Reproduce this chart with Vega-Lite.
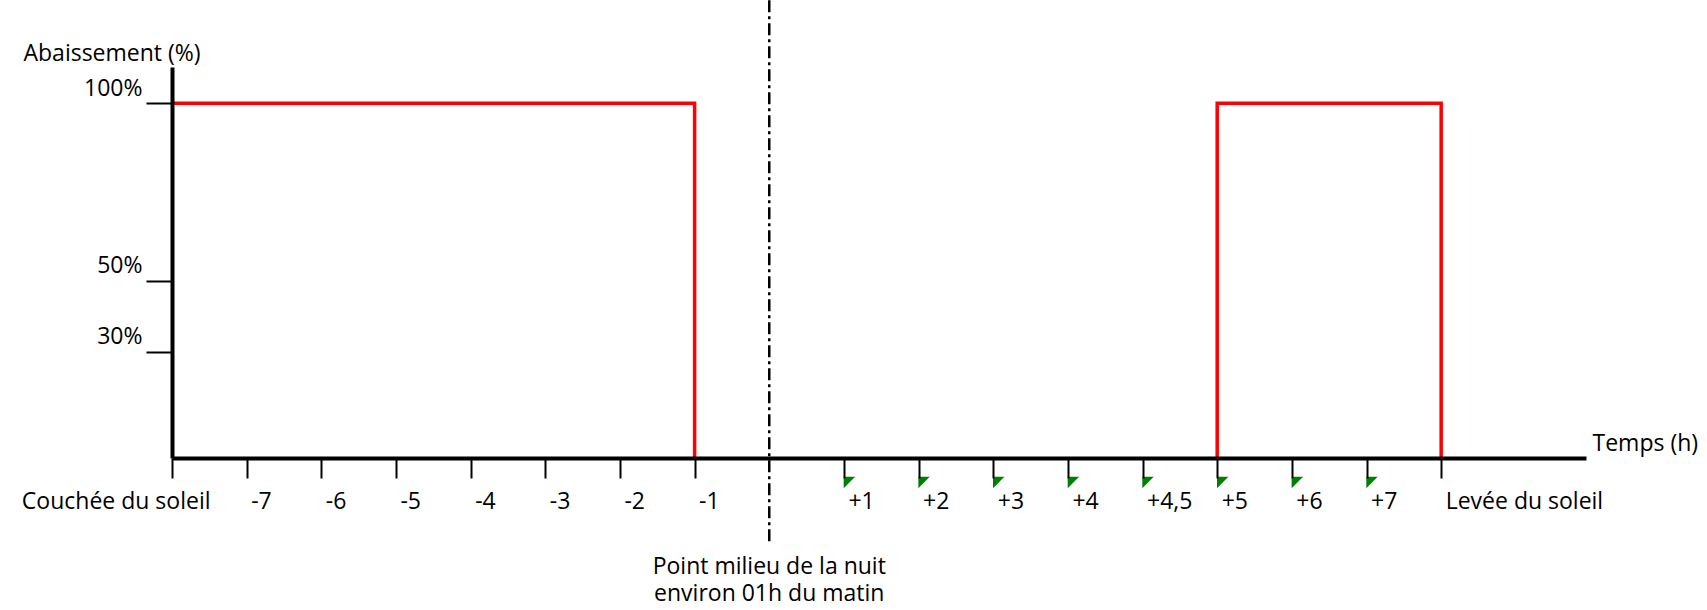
{
  "$schema": "https://vega.github.io/schema/vega-lite/v6.json",
  "width": 1414,
  "height": 391,
  "autosize": {"type": "none"},
  "padding": {"left": 172, "top": 67, "right": 121, "bottom": 152},
  "background": "white",
  "config": {"view": {"stroke": null}, "font": "Open Sans"},
  "datasets": {
    "profile": [
      {"seg": "soir", "slot": 0, "temps": "Couchée du soleil", "pct": 100, "ord": 1},
      {"seg": "soir", "slot": 7, "temps": "-1", "pct": 100, "ord": 2},
      {"seg": "soir", "slot": 7, "temps": "-1", "pct": 0, "ord": 3},
      {"seg": "matin", "slot": 14, "temps": "+5", "pct": 0, "ord": 1},
      {"seg": "matin", "slot": 14, "temps": "+5", "pct": 100, "ord": 2},
      {"seg": "matin", "slot": 17, "temps": "Levée du soleil", "pct": 100, "ord": 3},
      {"seg": "matin", "slot": 17, "temps": "Levée du soleil", "pct": 0, "ord": 4}
    ],
    "midpoint": [
      {"slot": 8, "note": ["Point milieu de la nuit", "environ 01h du matin"]}
    ],
    "alertes": [
      {"slot": 9, "temps": "+1"},
      {"slot": 10, "temps": "+2"},
      {"slot": 11, "temps": "+3"},
      {"slot": 12, "temps": "+4"},
      {"slot": 13, "temps": "+4,5"},
      {"slot": 14, "temps": "+5"},
      {"slot": 15, "temps": "+6"},
      {"slot": 16, "temps": "+7"}
    ]
  },
  "layer": [
    {
      "data": {"name": "profile"},
      "mark": {"type": "line", "color": "#FF0000", "strokeWidth": 3.5, "strokeJoin": "miter", "strokeCap": "butt"},
      "encoding": {
        "x": {
          "field": "slot",
          "type": "quantitative",
          "scale": {"domain": [0, 18.94], "nice": false, "zero": false},
          "axis": {
            "values": [0, 1, 2, 3, 4, 5, 6, 7, 9, 10, 11, 12, 13, 14, 15, 16, 17],
            "labelExpr": "['Couchée du soleil','-7','-6','-5','-4','-3','-2','-1','','+1','+2','+3','+4','+4,5','+5','+6','+7','Levée du soleil'][datum.value]",
            "title": "Temps (h)",
            "titleX": 1420,
            "titleY": -8,
            "titleAlign": "left",
            "titleBaseline": "alphabetic",
            "titleFont": "Open Sans",
            "titleFontSize": 23,
            "titleFontWeight": "normal",
            "titleColor": "black",
            "titleLimit": 0,
            "domainColor": "black",
            "domainWidth": 4,
            "tickColor": "black",
            "tickWidth": 2,
            "tickSize": 20,
            "labelFont": "Open Sans",
            "labelFontSize": 23,
            "labelColor": "black",
            "labelLimit": 0,
            "labelAlign": {"condition": {"test": "datum.value == 0", "value": "right"}, "value": "left"},
            "labelOffset": {"condition": {"test": "datum.value == 0", "value": 38}, "value": 4},
            "labelBaseline": "alphabetic",
            "labelPadding": 30,
            "labelOverlap": false,
            "labelFlush": false,
            "labelBound": false,
            "grid": false,
            "zindex": 1
          }
        },
        "y": {
          "field": "pct",
          "type": "quantitative",
          "scale": {"domain": [0, 110.2], "nice": false},
          "axis": {
            "values": [30, 50, 100],
            "labelExpr": "datum.value + '%'",
            "title": "Abaissement (%)",
            "titleAngle": 0,
            "titleX": -149,
            "titleY": -7,
            "titleAlign": "left",
            "titleBaseline": "alphabetic",
            "titleFont": "Open Sans",
            "titleFontSize": 23,
            "titleFontWeight": "normal",
            "titleColor": "black",
            "titleLimit": 0,
            "domainColor": "black",
            "domainWidth": 4,
            "tickColor": "black",
            "tickWidth": 2,
            "tickSize": 26,
            "labelFont": "Open Sans",
            "labelFontSize": 23,
            "labelColor": "black",
            "labelLimit": 0,
            "labelAlign": "right",
            "labelBaseline": "alphabetic",
            "labelOffset": -8,
            "labelPadding": 4,
            "labelOverlap": false,
            "labelFlush": false,
            "labelBound": false,
            "grid": false,
            "zindex": 1
          }
        },
        "detail": {"field": "seg"},
        "order": {"field": "ord"}
      }
    },
    {
      "data": {"name": "midpoint"},
      "mark": {"type": "rule", "color": "black", "strokeWidth": 2.5, "strokeDash": [12, 4, 3, 4]},
      "encoding": {
        "x": {"field": "slot", "type": "quantitative"},
        "y": {"datum": 129},
        "y2": {"datum": -24}
      }
    },
    {
      "data": {"name": "midpoint"},
      "mark": {"type": "text", "font": "Open Sans", "fontSize": 23, "color": "black", "align": "center", "baseline": "alphabetic", "dy": 116, "lineHeight": 27},
      "encoding": {
        "x": {"field": "slot", "type": "quantitative"},
        "y": {"datum": 0},
        "text": {"field": "note"}
      }
    },
    {
      "data": {"name": "alertes"},
      "mark": {"type": "point", "shape": "M-1,-1L1,-1L-1,1Z", "filled": true, "fill": "#008000", "opacity": 1, "strokeWidth": 0, "size": 130, "xOffset": 5.5, "yOffset": 24.5},
      "encoding": {
        "x": {"field": "slot", "type": "quantitative"},
        "y": {"datum": 0}
      }
    }
  ]
}
